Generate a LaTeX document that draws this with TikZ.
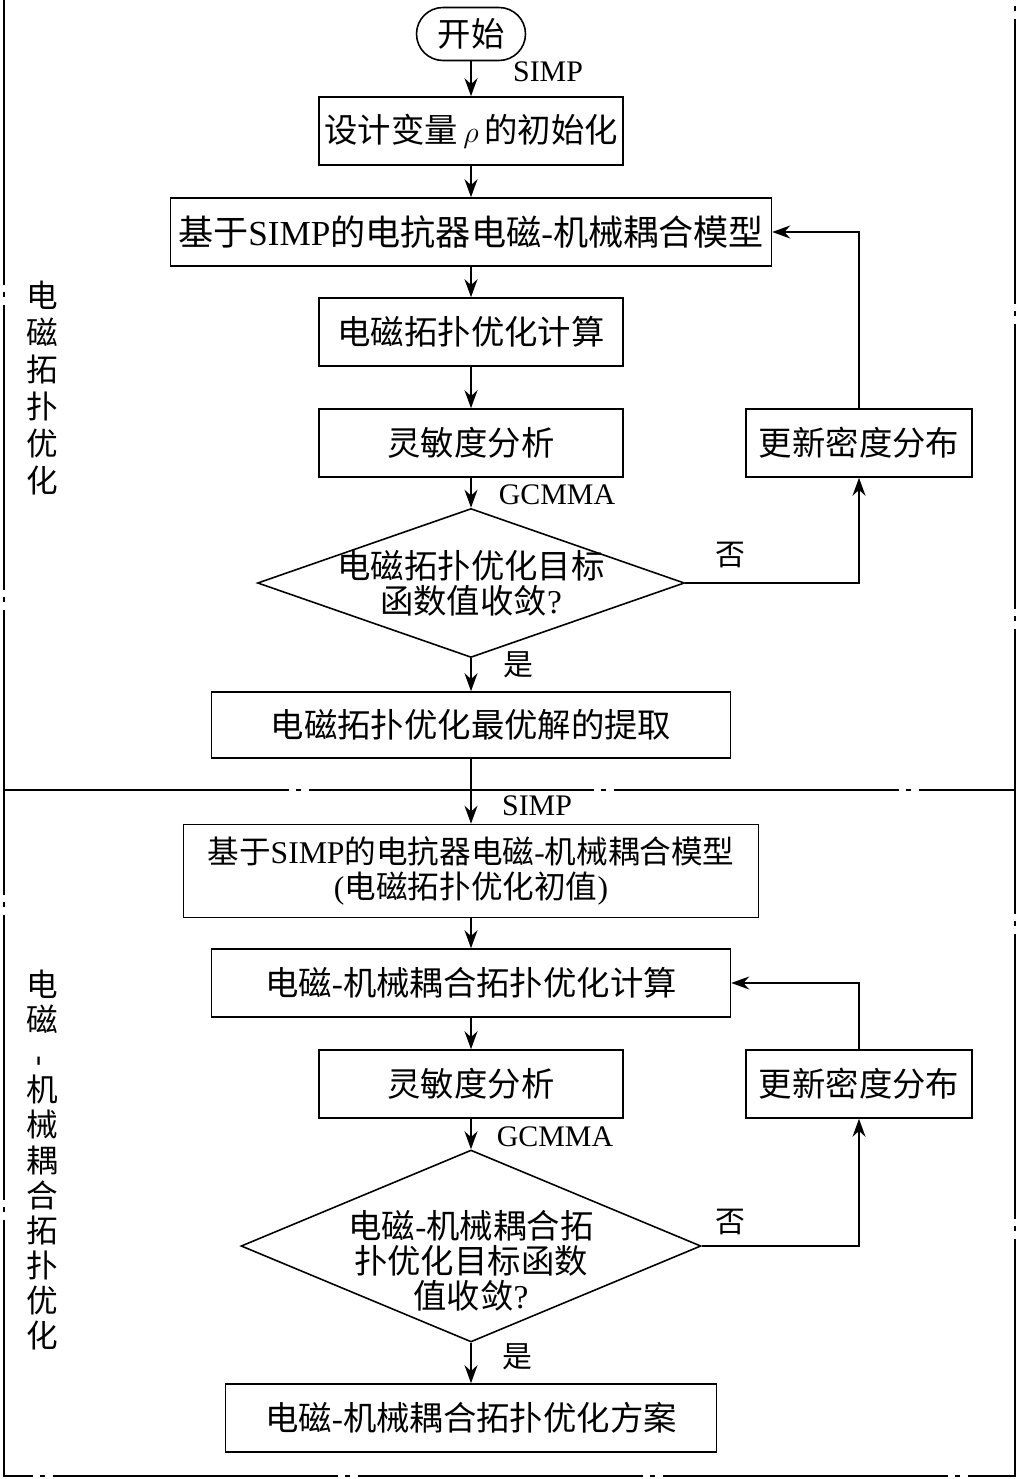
\documentclass[tikz,border=0pt]{standalone}
\usepackage{fontspec}
\setmainfont{Liberation Serif}
\newfontfamily\cjk{Noto Sans CJK SC}
\usetikzlibrary{arrows.meta,shapes.geometric}

\begin{document}
\begin{tikzpicture}[
    x=0.02cm, y=-0.02cm,
    every node/.style={inner sep=0pt},
    box/.style={draw, line width=0.9pt, font=\cjk\fontsize{19}{20}\selectfont, align=center, minimum height=1.36cm},
    startbox/.style={draw, line width=0.9pt, rounded corners=5.3mm, font=\cjk\fontsize{19}{20}\selectfont, minimum width=2.18cm, minimum height=1.06cm},
    dec/.style={draw, diamond, line width=0.9pt},
    dectext/.style={font=\cjk\fontsize{19}{20}\selectfont, align=center},
    lbl/.style={font=\fontsize{17}{20}\selectfont},
    side/.style={font=\cjk\fontsize{18}{21}\selectfont, align=center},
    edge/.style={line width=0.9pt},
    arr/.style={edge, -{Stealth[length=3.6mm, width=2.6mm]}},
    frame/.style={line width=1pt, dash pattern=on 5.7cm off 0.15cm on 0.1cm off 0.15cm}
]
    \useasboundingbox (0,0) rectangle (1019,1479);

    % frame and separator
    \draw[frame] (4,0) -- (4,1476) -- (1015,1476) -- (1015,0);
    \draw[frame] (4,790) -- (1015,790);

    % side labels
    \node[side] (sidea) at (42,388) {电\\磁\\拓\\扑\\优\\化};
    \node[side, font=\cjk\fontsize{18}{20}\selectfont] (sideb) at (42,1160)
        {电\\磁\\\rotatebox{90}{\rmfamily -}\\机\\械\\耦\\合\\拓\\扑\\优\\化};

    % electromagnetic part
    \node[startbox] (start) at (471,34) {开始};
    \node[box, minimum width=6.08cm] (init) at (471,131) {设计变量\,$\rho$\,的初始化};
    \node[box, minimum width=12.02cm, font=\cjk\fontsize{20}{22}\selectfont] (model) at (471,232)
        {基于{\rmfamily SIMP}的电抗器电磁{\rmfamily -}机械耦合模型};
    \node[box, minimum width=6.08cm] (emcalc) at (471,332) {电磁拓扑优化计算};
    \node[box, minimum width=6.08cm] (sensa) at (471,443) {灵敏度分析};
    \node[box, minimum width=4.52cm] (upda) at (859,443) {更新密度分布};
    \node[dec, minimum width=8.54cm, minimum height=2.98cm,
        label={[dectext]center:{电磁拓扑优化目标\\函数值收敛{\rmfamily ?}}}] (deca) at (471,583) {};
    \node[box, minimum width=10.38cm, minimum height=1.32cm] (best) at (471,725) {电磁拓扑优化最优解的提取};

    % coupled part
    \node[box, minimum width=11.5cm, minimum height=1.86cm, font=\cjk\fontsize{18}{20}\selectfont] (cmodel) at (471,871)
        {基于{\rmfamily SIMP}的电抗器电磁{\rmfamily -}机械耦合模型\\{\rmfamily (}电磁拓扑优化初值{\rmfamily )}};
    \node[box, minimum width=10.38cm] (cpcalc) at (471,983) {电磁{\rmfamily -}机械耦合拓扑优化计算};
    \node[box, minimum width=6.08cm] (sensb) at (471,1084) {灵敏度分析};
    \node[box, minimum width=4.52cm] (updb) at (859,1084) {更新密度分布};
    \node[dec, minimum width=9.2cm, minimum height=3.84cm,
        label={[dectext, yshift=-0.3cm]center:{电磁{\rmfamily -}机械耦合拓\\扑优化目标函数\\值收敛{\rmfamily ?}}}] (decb) at (471,1246) {};
    \node[box, minimum width=9.82cm] (plan) at (471,1418) {电磁{\rmfamily -}机械耦合拓扑优化方案};

    % arrow labels
    \node[lbl] (simpa) at (548,72) {SIMP};
    \node[lbl] (gcmmaa) at (557,495) {GCMMA};
    \node[lbl] (noa) at (730,555) {\cjk 否};
    \node[lbl] (yesa) at (518,665) {\cjk 是};
    \node[lbl] (simpb) at (537,806) {SIMP};
    \node[lbl] (gcmmab) at (555,1137) {GCMMA};
    \node[lbl] (nob) at (730,1222) {\cjk 否};
    \node[lbl] (yesb) at (517,1357) {\cjk 是};

    \draw[arr] (start) -- (init);
    \draw[arr] (init) -- (model);
    \draw[arr] (model) -- (emcalc);
    \draw[arr] (emcalc) -- (sensa);
    \draw[arr] (sensa) -- (deca.north);
    \draw[arr] (deca.east) -| (upda.south);
    \draw[arr] (upda.north) |- (model.east);
    \draw[arr] (deca.south) -- (best);
    \draw[arr] (best) -- (cmodel);
    \draw[arr] (cmodel) -- (cpcalc);
    \draw[arr] (cpcalc) -- (sensb);
    \draw[arr] (sensb) -- (decb.north);
    \draw[arr] (decb.east) -| (updb.south);
    \draw[arr] (updb.north) |- (cpcalc.east);
    \draw[arr] (decb.south) -- (plan);
\end{tikzpicture}
\end{document}
